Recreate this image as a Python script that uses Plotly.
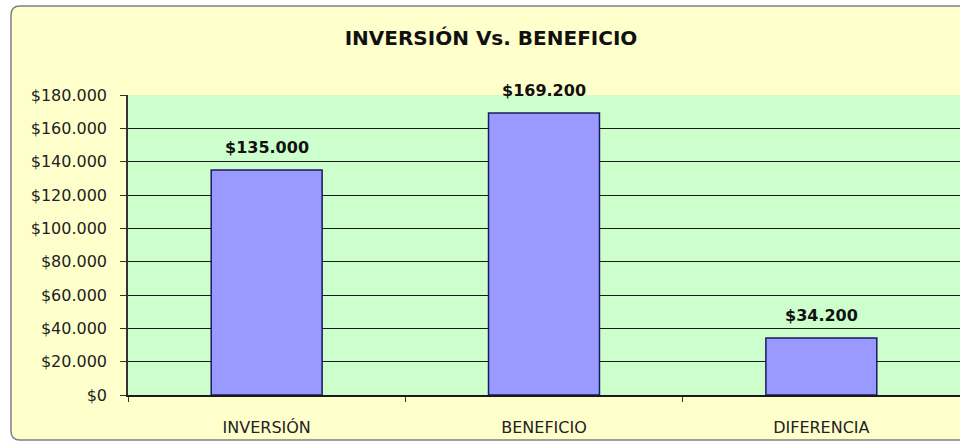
import plotly.graph_objects as go

categories = ["INVERSIÓN", "BENEFICIO", "DIFERENCIA"]
values = [135000, 169200, 34200]
title_text = "INVERSIÓN Vs. BENEFICIO"

W, H = 960, 448
# on-screen plot box: x 128..961, y 95..395
ML, MT, MR = 128, 95, 0
MB = H - 395
PW, PH = W - ML - MR, H - MT - MB

def px(x):
    return (x - ML) / PW

def py(y):
    return (H - MB - y) / PH

# rounded rectangle for the chart area (paper coords), screen px
x0, x1, y0, y1, r = 11, 985, 6, 440, 9
rx, ry = r / PW, r / PH
X0, X1, Y0, Y1 = px(x0), px(x1), py(y1), py(y0)
path = (f"M {X0+rx},{Y0} L {X1-rx},{Y0} Q {X1},{Y0} {X1},{Y0+ry} "
        f"L {X1},{Y1-ry} Q {X1},{Y1} {X1-rx},{Y1} L {X0+rx},{Y1} "
        f"Q {X0},{Y1} {X0},{Y1-ry} L {X0},{Y0+ry} Q {X0},{Y0} {X0+rx},{Y0} Z")

FONT = "DejaVu Sans, Arial"

fig = go.Figure(go.Bar(
    x=categories, y=values,
    marker=dict(color="#9999FF", line=dict(color="#1a1a5e", width=1.5)),
    hoverinfo="x+y",
))

annotations = [
    dict(x=c, y=v, xref="x", yref="y", text=f"<b>${v:,.0f}</b>".replace(",", "."),
         showarrow=False, yanchor="bottom", yshift=11,
         font=dict(family=FONT, size=16, color="#111111"))
    for c, v in zip(categories, values)
]

fig.update_layout(
    width=W, height=H,
    margin=dict(l=ML, r=MR, t=MT, b=MB),
    paper_bgcolor="white",
    plot_bgcolor="rgba(0,0,0,0)",
    separators=",.",
    bargap=0.6,
    showlegend=False,
    font=dict(family=FONT, size=16, color="#222222"),
    title=dict(text=f"<b>{title_text}</b>", x=491 / W, xanchor="center",
               y=1 - 38 / H, yanchor="middle",
               font=dict(family=FONT, size=20, color="#111111")),
    annotations=annotations,
    shapes=[
        dict(type="path", path=path, xref="paper", yref="paper", layer="below",
             fillcolor="#FFFFCC", line=dict(color="#808080", width=1.5)),
        dict(type="rect", xref="paper", yref="paper", x0=0, x1=1, y0=0, y1=1,
             layer="below", fillcolor="#CCFFCC", line=dict(width=0)),
    ],
)

fig.update_yaxes(
    range=[0, 180000], dtick=20000, tickformat=",.0f", tickprefix="$",
    showgrid=True, gridcolor="#1a1a1a", gridwidth=1.4,
    showline=True, linecolor="#333333", linewidth=1.5,
    ticks="outside", ticklen=6, tickcolor="#333333", ticklabelstandoff=10,
    tickfont=dict(family=FONT, size=16, color="#222222"), zeroline=False,
)
fig.update_xaxes(
    showline=True, linecolor="#1a1a1a", linewidth=1.5,
    ticks="outside", tickson="boundaries", ticklen=5, tickcolor="#333333",
    ticklabelstandoff=17,
    tickfont=dict(family=FONT, size=16, color="#222222"), showgrid=False,
)

fig.write_html(
    "out.html",
    config={"displayModeBar": False},
    post_script="document.body.style.margin='0';document.body.style.overflow='hidden';",
)
